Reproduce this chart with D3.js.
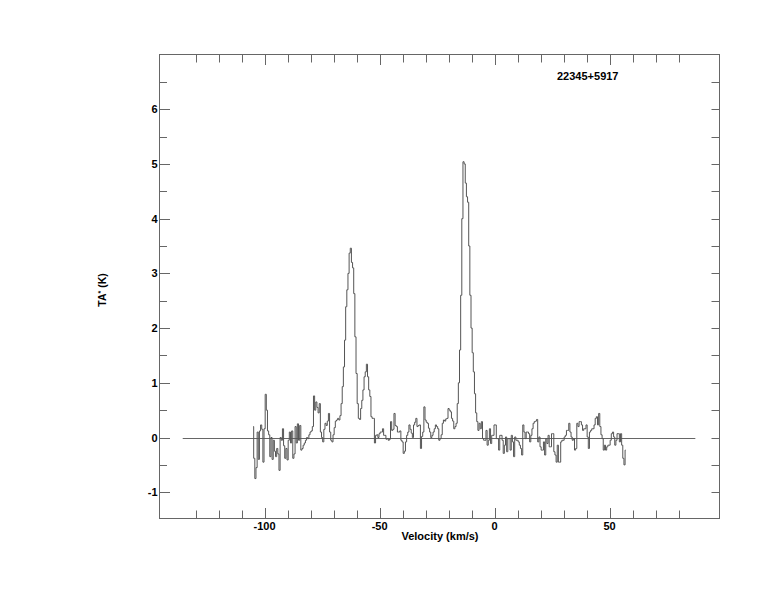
<!DOCTYPE html>
<html>
<head>
<meta charset="utf-8">
<script src="https://cdn.jsdelivr.net/npm/d3@7"></script>
<style>
  html, body { margin: 0; padding: 0; background: #fff; }
  svg { display: block; }
  text { font-family: "Liberation Sans", Arial, Helvetica, sans-serif; font-weight: bold; fill: #000; }
</style>
</head>
<body>
<svg id="chart" width="774" height="612"></svg>
<script>
// ---- data ----
const title = "22345+5917";
const xLabel = "Velocity (km/s)";
const xDomain = [-145.7, 97.8];
const yDomain = [-1.48, 7];
const xMajorTicks = [-100, -50, 0, 50];
const xMinorTicks = [-130, -120, -110, -90, -80, -70, -60, -40, -30, -20, -10, 10, 20, 30, 40, 60, 70, 80];
const yMajorTicks = [-1, 0, 1, 2, 3, 4, 5, 6];
const yMinorTicks = [-0.5, 0.5, 1.5, 2.5, 3.5, 4.5, 5.5, 6.5];
const baselineRange = [-135.6, 87.3];

const velocity = [
-105,-104.5,-104,-103.5,-103,-102.5,-102,-101.5,-101,-100.5,-100,-99.5,-99,-98.5,-98,-97.5,-97,-96.5,-96,-95.5,
-95,-94.5,-94,-93.5,-93,-92.5,-92,-91.5,-91,-90.5,-90,-89.5,-89,-88.5,-88,-87.5,-87,-86.5,-86,-85.5,
-85,-84.5,-84,-83.5,-83,-82.5,-82,-81.5,-81,-80.5,-80,-79.5,-79,-78.5,-78,-77.5,-77,-76.5,-76,-75.5,
-75,-74.5,-74,-73.5,-73,-72.5,-72,-71.5,-71,-70.5,-70,-69.5,-69,-68.5,-68,-67.5,-67,-66.5,-66,-65.5,
-65,-64.5,-64,-63.5,-63,-62.5,-62,-61.5,-61,-60.5,-60,-59.5,-59,-58.5,-58,-57.5,-57,-56.5,-56,-55.5,
-55,-54.5,-54,-53.5,-53,-52.5,-52,-51.5,-51,-50.5,-50,-49.5,-49,-48.5,-48,-47.5,-47,-46.5,-46,-45.5,
-45,-44.5,-44,-43.5,-43,-42.5,-42,-41.5,-41,-40.5,-40,-39.5,-39,-38.5,-38,-37.5,-37,-36.5,-36,-35.5,
-35,-34.5,-34,-33.5,-33,-32.5,-32,-31.5,-31,-30.5,-30,-29.5,-29,-28.5,-28,-27.5,-27,-26.5,-26,-25.5,
-25,-24.5,-24,-23.5,-23,-22.5,-22,-21.5,-21,-20.5,-20,-19.5,-19,-18.5,-18,-17.5,-17,-16.5,-16,-15.5,
-15,-14.5,-14,-13.5,-13,-12.5,-12,-11.5,-11,-10.5,-10,-9.5,-9,-8.5,-8,-7.5,-7,-6.5,-6,-5.5,
-5,-4.5,-4,-3.5,-3,-2.5,-2,-1.5,-1,-0.5,0,0.5,1,1.5,2,2.5,3,3.5,4,4.5,
5,5.5,6,6.5,7,7.5,8,8.5,9,9.5,10,10.5,11,11.5,12,12.5,13,13.5,14,14.5,
15,15.5,16,16.5,17,17.5,18,18.5,19,19.5,20,20.5,21,21.5,22,22.5,23,23.5,24,24.5,
25,25.5,26,26.5,27,27.5,28,28.5,29,29.5,30,30.5,31,31.5,32,32.5,33,33.5,34,34.5,
35,35.5,36,36.5,37,37.5,38,38.5,39,39.5,40,40.5,41,41.5,42,42.5,43,43.5,44,44.5,
45,45.5,46,46.5,47,47.5,48,48.5,49,49.5,50,50.5,51,51.5,52,52.5,53,53.5,54,54.5,
55,55.5,56,56.5,57
];

const antennaTemp = [
// -105 .. -66
0.2,-0.38,-0.75,-0.55,0.1,-0.4,0.12,0.23,0.15,-0.45,0.16,0.79,0.5,0.12,0.05,-0.35,0.0,-0.4,-0.05,-0.25,
-0.35,-0.2,-0.3,-0.6,0.0,-0.05,0.16,-0.15,-0.38,-0.2,-0.41,-0.05,0.1,-0.1,0.12,-0.38,-0.3,0.2,-0.1,0.25,
-0.05,0.22,-0.23,-0.2,-0.14,-0.1,-0.05,0.0,-0.02,0.05,0.1,0.12,0.2,0.76,0.5,0.65,0.55,0.45,0.62,0.1,
0.0,-0.08,0.15,0.26,0.22,0.3,0.44,0.1,-0.05,-0.08,0.05,0.18,0.3,0.32,0.35,0.32,0.4,0.62,0.93,
// -65.5 .. -53
1.29,1.78,2.39,2.7,3.0,3.37,3.46,3.2,3.1,2.63,1.84,1.17,0.62,0.35,0.33,0.53,0.68,0.87,1.11,1.2,
1.34,1.11,0.87,0.75,0.38,0.35,
// -52.5 .. -16.5
0.35,-0.1,0.04,0.05,0.0,0.07,0.1,0.1,0.16,0.04,0.04,-0.03,-0.02,-0.05,-0.03,0.29,0.13,0.15,0.44,0.22,
0.2,0.1,0.1,0.12,-0.05,-0.08,-0.29,-0.25,-0.08,0.04,0.1,0.23,0.15,0.08,0.0,0.23,0.28,0.35,0.2,0.22,
0.23,-0.2,0.02,0.1,0.56,0.32,0.28,0.26,0.17,0.1,0.0,0.04,0.1,0.16,0.23,0.2,0.16,-0.05,-0.02,0.05,
0.26,0.32,0.3,0.34,0.35,0.53,0.5,0.47,0.35,0.3,0.16,0.2,0.26,
// -16 .. -6.5
0.62,1.0,1.6,2.6,4.0,5.04,5.0,4.65,4.4,4.3,3.5,2.6,2.0,1.55,1.2,0.8,0.45,0.29,0.13,0.26,
// -6 .. 57
0.16,0.29,-0.02,-0.05,-0.05,0.13,-0.14,-0.05,0.16,-0.11,0.04,0.04,0.23,0.23,-0.02,-0.02,-0.23,0.04,0.04,-0.05,
-0.29,-0.14,0.01,-0.26,-0.02,-0.02,-0.23,0.04,-0.08,-0.35,0.01,-0.05,-0.05,-0.08,-0.14,-0.2,-0.32,0.23,0.1,-0.02,
0.1,0.1,0.07,-0.08,0.04,0.16,0.26,0.29,0.3,0.33,-0.08,0.01,-0.17,-0.23,-0.23,-0.08,-0.32,-0.02,-0.11,0.04,
-0.17,-0.17,0.07,0.07,-0.26,-0.32,-0.45,-0.14,-0.45,-0.45,-0.08,-0.05,-0.05,0.01,0.04,0.13,0.13,0.26,0.1,0.01,
-0.05,-0.02,-0.23,-0.2,0.26,0.2,0.29,0.29,0.23,0.13,0.16,0.16,0.23,0.01,-0.2,0.1,0.13,0.16,0.16,0.23,
0.35,0.38,0.23,0.44,0.2,0.05,-0.02,-0.23,-0.14,-0.23,-0.17,-0.14,-0.14,-0.05,0.07,0.1,0.01,-0.14,-0.05,0.07,
0.07,-0.08,0.07,-0.14,-0.38,-0.5,-0.23
];

// ---- layout ----
const svg = d3.select("#chart");
const pLeft = 159.5, pRight = 719.5, pTop = 54.5, pBottom = 518.5;
const x = d3.scaleLinear().domain(xDomain).range([pLeft, pRight]);
const y = d3.scaleLinear().domain(yDomain).range([pBottom, pTop]);
const axisColor = "#666";

const g = svg.append("g");

// frame
g.append("rect")
  .attr("x", pLeft).attr("y", pTop)
  .attr("width", pRight - pLeft).attr("height", pBottom - pTop)
  .attr("fill", "none").attr("stroke", axisColor).attr("stroke-width", 1);

// x ticks (bottom & top, inward)
const xt = xMajorTicks.map(v => ({v, len: 10.5})).concat(xMinorTicks.map(v => ({v, len: 8})));
g.selectAll(".xtb").data(xt).enter().append("line")
  .attr("x1", d => Math.round(x(d.v)) + 0.5).attr("x2", d => Math.round(x(d.v)) + 0.5)
  .attr("y1", pBottom).attr("y2", d => pBottom - d.len)
  .attr("stroke", axisColor);
g.selectAll(".xtt").data(xt).enter().append("line")
  .attr("x1", d => Math.round(x(d.v)) + 0.5).attr("x2", d => Math.round(x(d.v)) + 0.5)
  .attr("y1", pTop).attr("y2", d => pTop + d.len)
  .attr("stroke", axisColor);

// y ticks left (major longer) and right
const yt = yMajorTicks.map(v => ({v, len: 10.5})).concat(yMinorTicks.map(v => ({v, len: 7.5})));
g.selectAll(".ytl").data(yt).enter().append("line")
  .attr("y1", d => Math.round(y(d.v)) + 0.5).attr("y2", d => Math.round(y(d.v)) + 0.5)
  .attr("x1", pLeft).attr("x2", d => pLeft + d.len)
  .attr("stroke", axisColor);
g.selectAll(".ytr").data(yt).enter().append("line")
  .attr("y1", d => Math.round(y(d.v)) + 0.5).attr("y2", d => Math.round(y(d.v)) + 0.5)
  .attr("x1", pRight).attr("x2", pRight - 8)
  .attr("stroke", axisColor);

// tick labels
g.selectAll(".xl").data(xMajorTicks).enter().append("text")
  .attr("x", d => x(d)).attr("y", 529.5)
  .attr("text-anchor", "middle").attr("font-size", 11)
  .text(d => d);
g.selectAll(".yl").data(yMajorTicks).enter().append("text")
  .attr("x", 157.5).attr("y", d => y(d) + 4)
  .attr("text-anchor", "end").attr("font-size", 11)
  .text(d => d);

// axis titles
g.append("text").attr("x", 440).attr("y", 540).attr("text-anchor", "middle")
  .attr("font-size", 11).text(xLabel);
const yl = g.append("text")
  .attr("transform", "translate(106,290) rotate(-90)")
  .attr("text-anchor", "middle").attr("font-size", 10.5);
yl.append("tspan").text("TA");
yl.append("tspan").attr("dy", -3).attr("font-size", 7).text("*");
yl.append("tspan").attr("dy", 3).text(" (K)");

// title
g.append("text").attr("x", 557).attr("y", 80).attr("font-size", 11).text(title);

// zero baseline
g.append("line")
  .attr("x1", x(baselineRange[0])).attr("x2", x(baselineRange[1]))
  .attr("y1", Math.round(y(0)) + 0.5).attr("y2", Math.round(y(0)) + 0.5)
  .attr("stroke", axisColor);

// spectrum
const pts = velocity.map((v, i) => [v, antennaTemp[i]]);
const line = d3.line().x(d => x(d[0])).y(d => y(d[1])).curve(d3.curveStep);
g.append("path").datum(pts)
  .attr("d", line)
  .attr("fill", "none").attr("stroke", "#555").attr("stroke-width", 1);
</script>
</body>
</html>
